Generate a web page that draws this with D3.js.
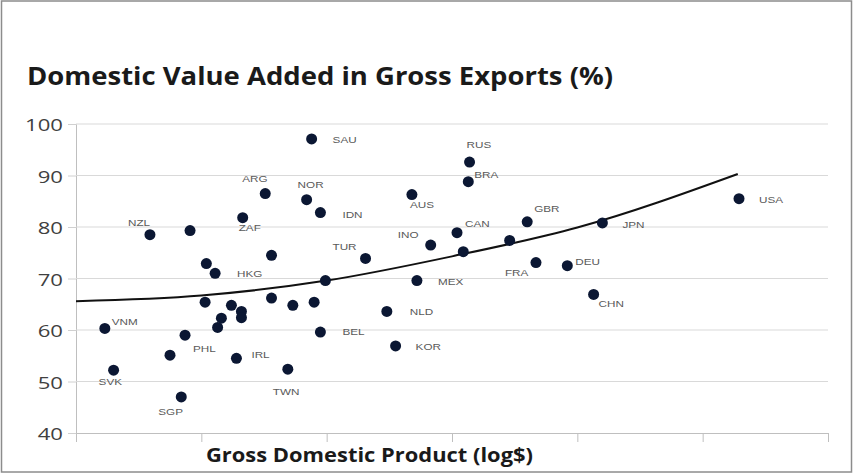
<!DOCTYPE html>
<html>
<head>
<meta charset="utf-8">
<script src="https://cdn.jsdelivr.net/npm/d3@7"></script>
<style>
  body { margin: 0; background: #fff; }
  text { font-family: "Open Sans", "Liberation Sans", sans-serif; }
</style>
</head>
<body>
<div id="chart"></div>
<script>
const width = 854;
const height = 474;

// country codes ("" = unlabeled point)
const countries = [
  "SAU", "ARG", "NOR", "IDN", "AUS", "NZL", "", "ZAF", "", "", "HKG", "TUR", "INO", "", "MEX",
  "RUS", "BRA", "USA", "GBR", "JPN", "CAN", "", "", "FRA", "DEU", "CHN",
  "VNM", "SVK", "", "SGP", "PHL", "", "", "", "", "", "", "IRL", "", "", "TWN", "", "BEL", "NLD", "KOR"
];
// log GDP (x) and domestic value added share (y)
const gdpLog = [
  11.88, 11.51, 11.84, 11.95, 12.68, 10.59, 10.91, 11.33, 11.56, 11.04, 11.11, 12.31, 12.83, 11.99, 12.72,
  13.14, 13.13, 15.29, 13.60, 14.20, 13.04, 13.09, 13.46, 13.67, 13.92, 14.13,
  10.23, 10.30, 10.75, 10.84, 10.87, 11.03, 11.13, 11.16, 11.24, 11.32, 11.32, 11.28, 11.56, 11.73, 11.69, 11.90, 11.95, 12.48, 12.55
];
const dva = [
  97.1, 86.5, 85.3, 82.8, 86.3, 78.5, 79.3, 81.8, 74.5, 72.9, 71.0, 73.9, 76.5, 69.6, 69.6,
  92.6, 88.8, 85.5, 81.0, 80.8, 78.9, 75.2, 77.4, 73.1, 72.5, 66.9,
  60.3, 52.2, 55.1, 47.0, 59.0, 65.4, 60.5, 62.3, 64.8, 63.6, 62.4, 54.5, 66.2, 64.8, 52.4, 65.4, 59.6, 63.6, 56.9
];

// trendline
const trendX = [10, 11, 12, 13, 14, 15.28];
const trendY = [65.6, 66.7, 69.6, 74.3, 79.9, 90.3];

const yTicks = [40, 50, 60, 70, 80, 90, 100];
const xTicks = [11, 12, 13, 14, 15, 16];

// label placement relative to the dot: [dx, dy]
const labelPos = {
  SAU: [21, 4], ARG: [-23, -12], NOR: [-9, -12], IDN: [22, 5], AUS: [-2, 13],
  NZL: [-22, -9], ZAF: [-4, 13], HKG: [22, 4], TUR: [-33, -8], INO: [-33, -7],
  MEX: [21, 4], RUS: [-3, -14], BRA: [6, -4], CAN: [8, -6], GBR: [7, -10],
  JPN: [20, 5], USA: [20, 4], FRA: [-31, 13], DEU: [8, -1], CHN: [5, 13],
  NLD: [23, 4], KOR: [20, 4], BEL: [22, 3], TWN: [-15, 26], IRL: [15, 0],
  PHL: [8, 17], SGP: [-23, 18], SVK: [-15, 15], VNM: [7, -3]
};

const points = countries.map((c, i) => ({ name: c, x: gdpLog[i], y: dva[i] }));

const svg = d3.select("#chart")
  .append("svg")
  .attr("width", width)
  .attr("height", height);

// stretch text horizontally, the source picture is a bit wide
function stretch(sel, f) {
  sel.each(function () {
    const w = this.getComputedTextLength();
    d3.select(this).attr("textLength", w * f).attr("lengthAdjust", "spacingAndGlyphs");
  });
}

svg.append("rect")
  .attr("x", 1.5).attr("y", 1)
  .attr("width", 850).attr("height", 471)
  .attr("fill", "#fff")
  .attr("stroke", "#8c8c8c")
  .attr("stroke-width", 1.5);

const x = d3.scaleLinear().domain([10, 16]).range([76, 828]);
const y = d3.scaleLinear().domain([40, 100]).range([433, 124]);

// gridlines + y axis
const yAxis = svg.append("g")
  .attr("transform", "translate(76,0)")
  .call(d3.axisLeft(y).tickValues(yTicks).tickSize(8).tickPadding(5));
yAxis.select(".domain").attr("stroke", "#bfbfbf");
yAxis.selectAll(".tick line").attr("stroke", "#d0d0d0");
yAxis.selectAll(".tick text")
  .attr("fill", "#404040")
  .style("font-size", "17px")
  .style("font-family", "'Open Sans', sans-serif")
  .attr("dy", "0.4em");
stretch(yAxis.selectAll(".tick text"), 1.3);

svg.append("g")
  .selectAll("line")
  .data(yTicks.filter(d => d > 40))
  .enter().append("line")
  .attr("x1", 76).attr("x2", 828)
  .attr("y1", d => y(d)).attr("y2", d => y(d))
  .attr("stroke", "#d9d9d9");

const xAxis = svg.append("g")
  .attr("transform", "translate(0,433)")
  .call(d3.axisBottom(x).tickValues(xTicks).tickSize(9).tickFormat(""));
xAxis.select(".domain").attr("stroke", "#bfbfbf");
xAxis.selectAll(".tick line").attr("stroke", "#bfbfbf");

// trendline
const line = d3.line()
  .x(d => x(d[0]))
  .y(d => y(d[1]))
  .curve(d3.curveMonotoneX);
svg.append("path")
  .datum(trendX.map((v, i) => [v, trendY[i]]))
  .attr("d", line)
  .attr("fill", "none")
  .attr("stroke", "#111")
  .attr("stroke-width", 2);

// points
svg.append("g")
  .selectAll("circle")
  .data(points)
  .enter().append("circle")
  .attr("cx", d => x(d.x))
  .attr("cy", d => y(d.y))
  .attr("r", 5.5)
  .attr("fill", "#0b1733");

// labels
const labels = svg.append("g")
  .selectAll("text")
  .data(points.filter(d => d.name))
  .enter().append("text")
  .attr("x", d => x(d.x) + labelPos[d.name][0])
  .attr("y", d => y(d.y) + labelPos[d.name][1])
  .attr("fill", "#5a5a5a")
  .style("font-size", "9px")
  .style("font-family", "'Liberation Sans', Arial, sans-serif")
  .text(d => d.name);
stretch(labels, 1.3);

// titles
svg.append("text")
  .attr("x", 27).attr("y", 85)
  .attr("fill", "#1a1a1a")
  .style("font-size", "25px")
  .style("font-weight", "bold")
  .attr("textLength", 586)
  .attr("lengthAdjust", "spacingAndGlyphs")
  .text("Domestic Value Added in Gross Exports (%)");

svg.append("text")
  .attr("x", 206).attr("y", 462)
  .attr("fill", "#1a1a1a")
  .style("font-size", "20px")
  .style("font-weight", "bold")
  .attr("textLength", 327)
  .attr("lengthAdjust", "spacingAndGlyphs")
  .text("Gross Domestic Product (log$)");
</script>
</body>
</html>
